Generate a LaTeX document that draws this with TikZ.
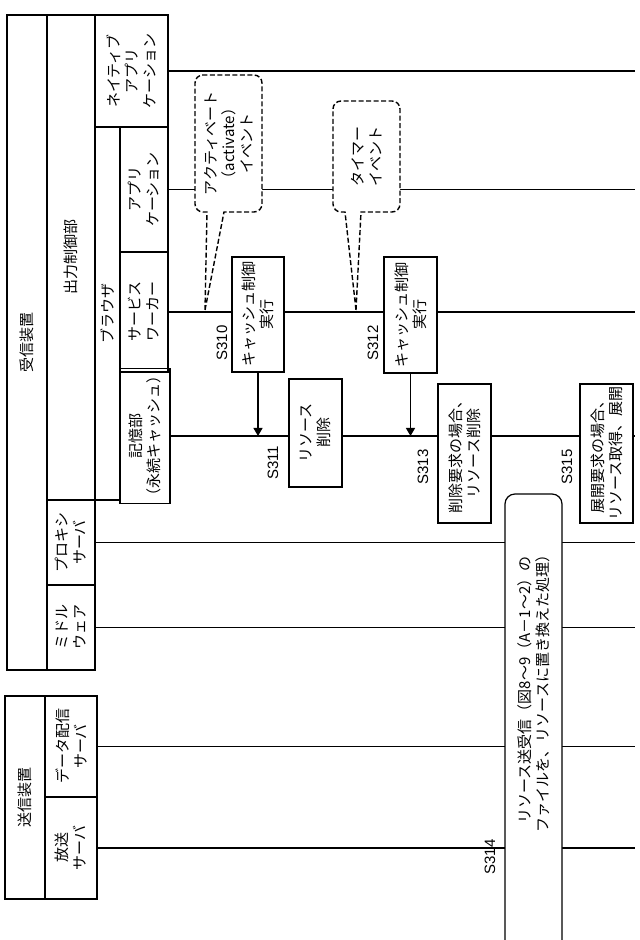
\documentclass[tikz,border=0pt]{standalone}
\usepackage{fontspec}
\setmainfont{Noto Sans CJK JP}
\newfontfamily\lblfont{Liberation Sans}
\usetikzlibrary{arrows.meta}
\begin{document}
\begin{tikzpicture}[x=1pt,y=1pt,
  hdr/.style={draw,line width=1.2pt,rotate=90,align=center,inner sep=0pt,font=\fontsize{15}{18}\selectfont},
  stepbox/.style={draw,fill=white,line width=1.2pt,rotate=90,align=center,inner sep=0pt,font=\fontsize{15}{18}\selectfont},
  lbl/.style={rotate=90,font=\lblfont\fontsize{15}{18}\selectfont},
  txt/.style={rotate=90,align=center,font=\fontsize{15}{18}\selectfont},
  life/.style={line width=1.2pt},
  call/.style={draw,dash pattern=on 5pt off 2.5pt,line width=1.4pt,fill=white},
  arr/.style={line width=1.2pt,-{Triangle[length=8pt,width=9pt]}}]
\useasboundingbox (0,0) rectangle (640,940);
% headers
\node[hdr,minimum width=655,minimum height=40] (recv) at (27,597.5) {受信装置};
\node[hdr,minimum width=485,minimum height=48] (outc) at (71,682.5) {出力制御部};
\node[hdr,minimum width=85,minimum height=48] (proxy) at (71,397.5) {プロキシ\\サーバ};
\node[hdr,minimum width=85,minimum height=48] (mid) at (71,312.5) {ミドル\\ウェア};
\node[hdr,minimum width=112,minimum height=73] (native) at (131.5,869) {ネイティブ\\アプリ\\ケーション};
\node[hdr,minimum width=373,minimum height=25] (brow) at (107.5,626.5) {ブラウザ};
\node[hdr,minimum width=125,minimum height=48] (app) at (144,750.5) {アプリ\\ケーション};
\node[hdr,minimum width=120,minimum height=48] (sw) at (144,628) {サービス\\ワーカー};
\node[hdr,minimum width=128,minimum height=50] (stor) at (145,504) {記憶部\\（永続キャッシュ）};
\node[hdr,minimum width=203,minimum height=40] (send) at (25,142.5) {送信装置};
\node[hdr,minimum width=101,minimum height=52] (data) at (71,193.5) {データ配信\\サーバ};
\node[hdr,minimum width=102,minimum height=52] (bcast) at (71,92) {放送\\サーバ};
% lifelines
\coordinate (endx) at (635,0);
\foreach \n in {native,app,sw,stor,proxy,mid,data,bcast}
  \draw[life] (\n.south) -- (\n.south -| endx);
% callouts
\draw[call] (205,630) -- (224,728) [rounded corners=8pt] -- (262,728) -- (262,865) -- (195,865) -- (195,728) [sharp corners] -- (207,728) -- cycle;
\node[txt] (act) at (228.5,796.5) {アクティベート\\（activate）\\イベント};
\draw[call] (356,630) -- (361,728) [rounded corners=8pt] -- (400,728) -- (400,839) -- (333,839) -- (333,728) [sharp corners] -- (345,728) -- cycle;
\node[txt] (tim) at (366.5,783.5) {タイマー\\イベント};
% steps
\node[stepbox,minimum width=115,minimum height=52] (s310) at (258,625.5) {キャッシュ制御\\実行};
\node[stepbox,minimum width=108,minimum height=53] (s311) at (315.5,507) {リソース\\削除};
\node[stepbox,minimum width=116,minimum height=53] (s312) at (410.5,625) {キャッシュ制御\\実行};
\node[stepbox,minimum width=139,minimum height=53] (s313) at (464.5,486.5) {削除要求の場合、\\リソース削除};
\node[stepbox,minimum width=139,minimum height=53] (s315) at (606.5,486.5) {展開要求の場合、\\リソース取得、展開};
\node[draw,fill=white,line width=1.2pt,rounded corners=10pt,minimum width=57,minimum height=456,inner sep=0pt] (s314) at (533.5,218) {};
\node[txt] (s314t) at (533.5,250) {リソース送受信（図8～9（A－1～2）の\\ファイルを、リソースに置き換えた処理）};
\draw[arr] (s310.west) -- (s310.west |- stor.south);
\draw[arr] (s312.west) -- (s312.west |- stor.south);
% labels
\node[lbl] (l310) at (222,597) {S310};
\node[lbl] (l311) at (273,477) {S311};
\node[lbl] (l312) at (373,597) {S312};
\node[lbl] (l313) at (423,473) {S313};
\node[lbl] (l315) at (567,473) {S315};
\node[lbl] (l314) at (490,83) {S314};
\end{tikzpicture}
\end{document}
